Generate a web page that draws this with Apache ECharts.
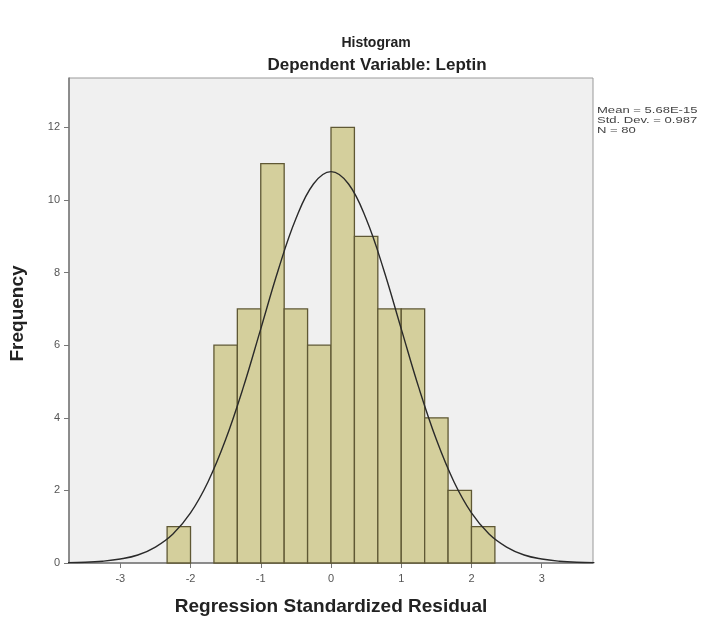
<!DOCTYPE html>
<html>
<head>
<meta charset="utf-8">
<script src="https://cdn.jsdelivr.net/npm/echarts@6/dist/echarts.min.js"></script>
<style>
html, body { margin: 0; padding: 0; background: #fff; }
#chart1 { width: 712px; height: 626px; }
</style>
</head>
<body>
<div id="chart1"></div>
<script>
// bin edges (width 1/3) and counts
var binLo = [-7/3, -2, -5/3, -4/3, -1, -2/3, -1/3, 0, 1/3, 2/3, 1, 4/3, 5/3, 2];
var binHi = [-2, -5/3, -4/3, -1, -2/3, -1/3, 0, 1/3, 2/3, 1, 4/3, 5/3, 2, 7/3];
var counts = [1, 0, 6, 7, 11, 7, 6, 12, 9, 7, 7, 4, 2, 1];

// normal curve
var curveX = [-3.75, -3.5, -3.25, -3, -2.75, -2.5, -2.25, -2, -1.75, -1.5, -1.25, -1, -0.75, -0.5, -0.25,
              0, 0.25, 0.5, 0.75, 1, 1.25, 1.5, 1.75, 2, 2.25, 2.5, 2.75, 3, 3.25, 3.5, 3.75];
var curveY = [0.01, 0.02, 0.05, 0.11, 0.22, 0.44, 0.8, 1.38, 2.24, 3.4, 4.83, 6.45, 8.08, 9.48, 10.44,
              10.78, 10.44, 9.48, 8.08, 6.45, 4.83, 3.4, 2.24, 1.38, 0.8, 0.44, 0.22, 0.11, 0.05, 0.02, 0.01];

var xTicks = [-3, -2, -1, 0, 1, 2, 3];
var yTicks = [0, 2, 4, 6, 8, 10, 12];
var statLines = ['Mean = 5.68E-15', 'Std. Dev. = 0.987', 'N = 80'];

var myChart = echarts.init(document.getElementById('chart1'));

var bars = [];
for (var i = 0; i < counts.length; i++) {
	bars.push([binLo[i], binHi[i], counts[i]]);
}
var curve = curveX.map(function (x, i) { return [x, curveY[i]]; });

var font = '"Liberation Sans", Arial, sans-serif';

var option = {
	backgroundColor: '#fff',
	animation: false,
	title: [
		{
			text: 'Histogram',
			left: 371, top: 31, textAlign: 'center',
			textStyle: { fontFamily: font, fontSize: 14, fontWeight: 'bold', color: '#222' }
		},
		{
			text: 'Dependent Variable: Leptin',
			left: 372, top: 52, textAlign: 'center',
			textStyle: { fontFamily: font, fontSize: 17, fontWeight: 'bold', color: '#222' }
		}
	],
	grid: {
		left: 68, top: 78, right: 119, bottom: 63,
		show: true,
		backgroundColor: '#f0f0f0',
		borderColor: '#9a9a9a',
		borderWidth: 1
	},
	xAxis: {
		type: 'value',
		min: -3.73, max: 3.73,
		name: 'Regression Standardized Residual',
		nameLocation: 'middle',
		nameGap: 34,
		nameTextStyle: { fontFamily: font, fontSize: 19, fontWeight: 'bold', color: '#222' },
		splitLine: { show: false },
		axisLine: { show: true, onZero: false, lineStyle: { color: '#777', width: 1.5 } },
		axisTick: { show: true, customValues: xTicks, length: 5, lineStyle: { color: '#777' } },
		axisLabel: { customValues: xTicks, margin: 10, fontFamily: font, fontSize: 11, color: '#555' }
	},
	yAxis: {
		type: 'value',
		min: 0, max: 13.36,
		name: 'Frequency',
		nameLocation: 'middle',
		nameGap: 42,
		nameTextStyle: { fontFamily: font, fontSize: 19, fontWeight: 'bold', color: '#222', padding: [0, 0, 0, 14] },
		splitLine: { show: false },
		axisLine: { show: true, onZero: false, lineStyle: { color: '#777', width: 1.5 } },
		axisTick: { show: true, customValues: yTicks, length: 5, lineStyle: { color: '#777' } },
		axisLabel: { customValues: yTicks, margin: 9, fontFamily: font, fontSize: 11, color: '#555' }
	},
	graphic: statLines.map(function (t, i) {
		return {
			type: 'text', left: 597, top: 106 + i * 10,
			scaleX: 1.45,
			style: { text: t, fontFamily: font, fontSize: 9, fill: '#444' }
		};
	}),
	series: [
		{
			name: 'Frequency',
			type: 'custom',
			data: bars,
			renderItem: function (params, api) {
				if (api.value(2) <= 0) return null;
				var p0 = api.coord([api.value(0), api.value(2)]);
				var p1 = api.coord([api.value(1), 0]);
				return {
					type: 'rect',
					shape: { x: p0[0], y: p0[1], width: p1[0] - p0[0], height: p1[1] - p0[1] },
					style: { fill: '#d4cf9c', stroke: '#5f5834', lineWidth: 1.3 }
				};
			},
			encode: { x: [0, 1], y: 2 },
			z: 2
		},
		{
			name: 'Normal',
			type: 'line',
			data: curve,
			smooth: 0.4,
			symbol: 'none',
			clip: true,
			lineStyle: { color: '#2a2a2a', width: 1.4 },
			z: 3
		}
	]
};
myChart.setOption(option);
</script>
</body>
</html>
